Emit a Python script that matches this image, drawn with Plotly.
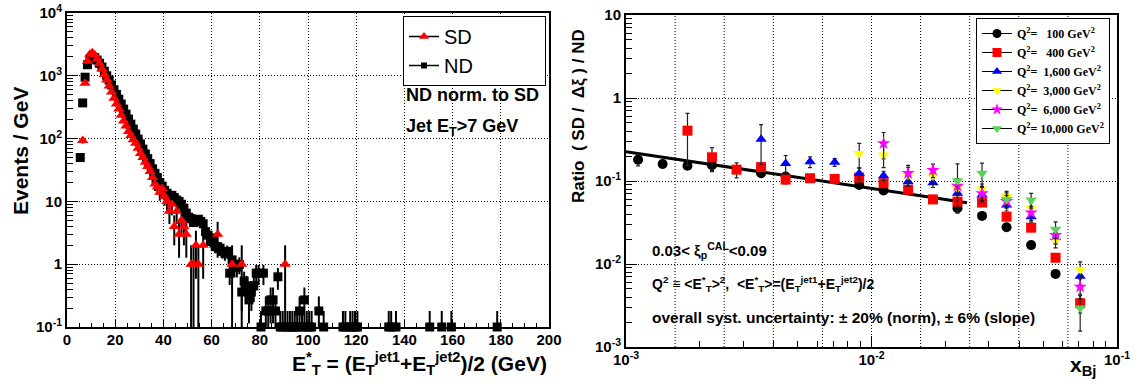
import math
import plotly.graph_objects as go

# ---------------- Left panel data (1 GeV bins) ----------------
nd_x = [5.5, 6.5, 7.5, 8.5, 9.5, 10.5, 11.5, 12.5, 13.5, 14.5, 15.5, 16.5, 17.5, 18.5, 19.5,
        20.5, 21.5, 22.5, 23.5, 24.5, 25.5, 26.5, 27.5, 28.5, 29.5, 30.5, 31.5, 32.5, 33.5,
        34.5, 35.5, 36.5, 37.5, 38.5, 39.5, 40.5, 41.5, 42.5, 43.5, 44.5, 45.5, 46.5, 47.5,
        48.5, 49.5, 50.5, 51.5, 52.5, 53.5, 54.5, 55.5, 56.5, 57.5, 58.5, 59.5, 60.5, 61.5,
        62.5, 63.5, 64.5, 65.5, 66.5, 67.5, 68.5, 69.5, 70.5, 71.5, 72.5, 73.5, 74.5, 75.5,
        76.5, 77.5, 78.5, 79.5, 80.5, 81.5, 82.5, 83.5, 84.5, 85.5, 86.5, 87.5, 88.5, 89.5,
        91.5, 92.5, 93.5, 94.5, 95.5, 96.5, 97.5, 98.5, 99.5, 100.5, 101.5, 104.5, 106.5,
        114.5, 115.5, 117.5, 118.5, 119.5, 120.5, 133.5, 134.5, 136.5, 150.5, 155.5, 159.5,
        178.5]
nd_y = [50, 370, 950, 1500, 1850, 1980, 1950, 1780, 1580, 1380, 1180, 1000, 850, 715, 600,
        505, 425, 355, 295, 245, 205, 170, 142, 118, 98, 82, 68, 57, 48,
        40, 33, 28, 24, 20, 17.5, 15, 13.5, 12, 12.5, 11.5, 10.5, 10, 9,
        7.8, 6.5, 5.6, 5.3, 4.6, 5.0, 5.2, 4.8, 4.4, 3.3, 2.9, 2.3, 2.6, 1.9,
        1.9, 1.8, 1.6, 1.5, 1.6, 0.72, 1.17, 0.9, 0.9, 0.99, 0.36, 0.54, 0.45, 0.27,
        0.36, 0.45, 0.72, 0.72, 0.09, 0.72, 0.18, 0.18, 0.27, 0.27, 0.18, 0.63, 0.09, 0.09,
        0.09, 0.09, 0.09, 0.09, 0.09, 0.18, 0.09, 0.27, 0.09, 0.09, 0.09, 0.18, 0.09,
        0.09, 0.09, 0.09, 0.09, 0.09, 0.09, 0.09, 0.09, 0.09, 0.09, 0.09, 0.09,
        0.09]
ND_SCALE = 0.09  # weight of one ND event after normalisation to SD

sd_x = [6.5, 7.5, 8.5, 9.5, 10.5, 11.5, 12.5, 13.5, 14.5, 15.5, 16.5, 17.5, 18.5, 19.5,
        20.5, 21.5, 22.5, 23.5, 24.5, 25.5, 26.5, 27.5, 28.5, 29.5, 30.5, 31.5, 32.5, 33.5,
        34.5, 35.5, 36.5, 37.5, 38.5, 39.5, 40.5, 41.5, 42.5, 43.5, 44.5, 45.5, 46.5, 47.5,
        48.5, 49.5, 51.5, 52.5, 53.5, 54.5, 56.5, 62.5, 68.5, 72.5, 90.5]
sd_y = [93, 760, 1700, 2200, 2330, 2150, 1850, 1550, 1280, 1050, 860, 690, 550, 440,
        355, 295, 235, 190, 158, 130, 112, 96, 84, 70, 58, 50, 42, 36,
        30, 24, 19, 17, 14, 16, 12, 10, 7, 9, 4, 7, 3, 5,
        4, 3, 1, 1, 2, 1, 2, 3, 1, 1, 1]

left_xticks = [0, 20, 40, 60, 80, 100, 120, 140, 160, 180, 200]
left_yticks = [0.1, 1, 10, 100, 1000, 10000]
left_ytext = ["10<sup>-1</sup>", "1", "10", "10<sup>2</sup>", "10<sup>3</sup>", "10<sup>4</sup>"]

# ---------------- Right panel data ----------------
xbj = [0.00112, 0.00141, 0.00178, 0.00224, 0.00282, 0.00355, 0.00447, 0.00562, 0.00708,
       0.00891, 0.0112, 0.0141, 0.0178, 0.0224, 0.0282, 0.0355, 0.0447, 0.0562, 0.0708]
q100 = [0.18, 0.16, 0.153, 0.155, None, 0.124, 0.113, None, None, 0.0895, 0.077, None, None,
        0.047, 0.038, 0.0277, 0.0169, 0.0076, None]
q100_err = [0.028, 0.015, 0.015, 0.025, None, 0.008, 0.006, None, None, 0.005, 0.004, None, None,
            0.003, 0.002, 0.002, 0.001, 0.0006, None]
q400 = [None, None, 0.404, 0.193, 0.137, 0.147, 0.104, 0.108, 0.106, 0.11, 0.094, 0.0785, 0.060,
        0.0564, 0.055, 0.0372, 0.0274, 0.0119, 0.00337]
q400_err = [None, None, 0.25, 0.06, 0.028, 0.012, 0.012, 0.008, 0.008, 0.008, 0.008, 0.006, 0.005,
            0.012, 0.005, 0.004, 0.002, 0.001, 0.0008]
q1600 = [None, None, None, None, None, 0.318, 0.163, 0.17, 0.168, 0.123, 0.116, 0.098, 0.0955,
         0.0713, 0.068, 0.0515, 0.037, 0.021, 0.0071]
q1600_err = [None, None, None, None, None, 0.16, 0.04, 0.025, 0.018, 0.02, 0.015, 0.012, 0.012,
             0.012, 0.01, 0.008, 0.005, 0.003, 0.0015]
q3000 = [None, None, None, None, None, None, None, None, None, 0.214, 0.205, 0.116, 0.116,
         0.082, 0.080, 0.065, 0.047, 0.0196, 0.0086]
q3000_err = [None, None, None, None, None, None, None, None, None, 0.07, 0.06, 0.03, 0.025,
             0.015, 0.012, 0.01, 0.008, 0.004, 0.002]
q6000 = [None, None, None, None, None, None, None, None, None, None, 0.284, 0.124, 0.135,
         0.087, 0.071, 0.057, 0.0415, 0.0223, 0.0053]
q6000_err = [None, None, None, None, None, None, None, None, None, None, 0.1, 0.03, 0.025,
             0.02, 0.015, 0.01, 0.008, 0.005, 0.0015]
q10000 = [None, None, None, None, None, None, None, None, None, None, None, None, None,
          0.101, 0.124, 0.060, 0.059, 0.0262, 0.00295]
q10000_err = [None, None, None, None, None, None, None, None, None, None, None, None, None,
              0.06, 0.04, 0.012, 0.012, 0.006, 0.0014]
fit_x = [0.001, 0.0245]
fit_y = [0.225, 0.0548]

series = [
    ("Q<sup>2</sup>= &nbsp;&nbsp;100 GeV<sup>2</sup>", q100, q100_err, "circle", "black", 10),
    ("Q<sup>2</sup>= &nbsp;&nbsp;400 GeV<sup>2</sup>", q400, q400_err, "square", "#ff0000", 10),
    ("Q<sup>2</sup>= &nbsp;1,600 GeV<sup>2</sup>", q1600, q1600_err, "triangle-up", "#0000ff", 10),
    ("Q<sup>2</sup>= &nbsp;3,000 GeV<sup>2</sup>", q3000, q3000_err, "triangle-down", "#ffff00", 10),
    ("Q<sup>2</sup>= &nbsp;6,000 GeV<sup>2</sup>", q6000, q6000_err, "star", "#ff00ff", 10),
    ("Q<sup>2</sup>= 10,000 GeV<sup>2</sup>", q10000, q10000_err, "triangle-down", "#59d454", 10),
]

W, H = 1134, 385
def px(x): return x / W
def py(y): return 1 - y / H

SANS = "Liberation Sans, Arial, sans-serif"
SERIF = "Liberation Serif, Times New Roman, serif"
GRID_DASH = "1px,2px"
PAD = "&nbsp;" * 12

fig = go.Figure()

# ---- left traces ----
nd_main_x = [x for x, y in zip(nd_x, nd_y) if y >= 0.1]
nd_main_y = [y for y in nd_y if y >= 0.1]
nd_main_e = [math.sqrt(y * ND_SCALE) for y in nd_main_y]
nd_edge_x = [x for x, y in zip(nd_x, nd_y) if y < 0.1]
nd_edge_y = [0.1 for y in nd_y if y < 0.1]
nd_edge_e = [2 * y - 0.1 for y in nd_y if y < 0.1]

fig.add_trace(go.Scatter(x=nd_main_x, y=nd_main_y, mode="markers", showlegend=False,
                         marker=dict(symbol="square", size=9, color="black", line=dict(width=0)),
                         error_y=dict(type="data", array=nd_main_e, color="black", thickness=2, width=0),
                         xaxis="x", yaxis="y"))
fig.add_trace(go.Scatter(x=nd_edge_x, y=nd_edge_y, mode="markers", showlegend=False, cliponaxis=False,
                         marker=dict(symbol="square", size=9, color="black", line=dict(width=0)),
                         error_y=dict(type="data", array=nd_edge_e, arrayminus=[0] * len(nd_edge_e),
                                      color="black", thickness=2, width=0),
                         xaxis="x", yaxis="y"))
fig.add_trace(go.Scatter(x=sd_x, y=sd_y, mode="markers", showlegend=False,
                         marker=dict(symbol="triangle-up", size=10, color="#ff0000", line=dict(width=0)),
                         error_y=dict(type="data", array=[math.sqrt(v) for v in sd_y],
                                      arrayminus=[min(math.sqrt(v), v * 0.95) for v in sd_y],
                                      color="black", thickness=2, width=0),
                         xaxis="x", yaxis="y"))
# legend entries (left)
fig.add_trace(go.Scatter(x=[None], y=[None], mode="lines+markers", name="SD" + PAD, legend="legend",
                         line=dict(color="black", width=1.5),
                         marker=dict(symbol="triangle-up", size=9, color="#ff0000"), xaxis="x", yaxis="y"))
fig.add_trace(go.Scatter(x=[None], y=[None], mode="lines+markers", name="ND" + PAD, legend="legend",
                         line=dict(color="black", width=1.5),
                         marker=dict(symbol="square", size=6, color="black"), xaxis="x", yaxis="y"))

# ---- right traces ----
fig.add_trace(go.Scatter(x=fit_x, y=fit_y, mode="lines", showlegend=False,
                         line=dict(color="black", width=3), xaxis="x2", yaxis="y2"))
for name, vals, errs, sym, col, sz in series:
    xs = [x for x, v in zip(xbj, vals) if v is not None]
    ys = [v for v in vals if v is not None]
    es = [e for v, e in zip(vals, errs) if v is not None]
    fig.add_trace(go.Scatter(x=xs, y=ys, mode="markers", showlegend=False,
                             marker=dict(symbol=sym, size=sz, color=col, line=dict(width=0)),
                             error_y=dict(type="data", array=es, color="#222222", thickness=1.2, width=2),
                             xaxis="x2", yaxis="y2"))
for name, vals, errs, sym, col, sz in series:
    fig.add_trace(go.Scatter(x=[None], y=[None], mode="lines+markers", name=name, legend="legend2",
                             line=dict(color="black", width=1),
                             marker=dict(symbol=sym, size=9, color=col, line=dict(width=0)),
                             xaxis="x2", yaxis="y2"))

# grid lines for right x-axis every 0.2 decade
shapes = []
for k in range(1, 10):
    xv = 10 ** (-3 + 0.2 * k)
    shapes.append(dict(type="line", xref="x2", yref="y2 domain", x0=xv, x1=xv, y0=0, y1=1,
                       line=dict(color="black", width=1, dash=GRID_DASH), layer="below"))

def minor_log(lo, hi):
    out = []
    for d in range(lo, hi):
        for m in range(2, 10):
            out.append(m * 10 ** d)
    return out

tickfont = dict(family=SANS, size=15, color="black", weight="bold")
common = dict(showline=True, linecolor="black", linewidth=2, mirror=True, zeroline=False,
              tickfont=tickfont, automargin=False, tickcolor="black", ticklabeloverflow="allow")

fig.update_layout(
    width=W, height=H, margin=dict(l=0, r=0, t=0, b=0, autoexpand=False),
    paper_bgcolor="white", plot_bgcolor="white",
    shapes=shapes,
    xaxis=dict(domain=[px(67), px(549)], anchor="y", range=[0, 200], tickvals=left_xticks,
               ticks="inside", ticklen=8, tickwidth=1, ticklabelstandoff=-2,
               minor=dict(dtick=5, tick0=0, ticks="inside", ticklen=4, tickcolor="black", showgrid=False),
               showgrid=True, gridcolor="black", gridwidth=1, griddash=GRID_DASH, **common),
    yaxis=dict(domain=[py(327), py(13)], anchor="x", type="log", range=[-1, 4],
               tickvals=left_yticks, ticktext=left_ytext,
               ticks="inside", ticklen=11,
               minor=dict(tickvals=minor_log(-1, 4), ticks="inside", ticklen=6, tickcolor="black", showgrid=False),
               showgrid=True, gridcolor="black", gridwidth=1, griddash=GRID_DASH, **common),
    xaxis2=dict(domain=[px(626), px(1117)], anchor="y2", type="log", range=[-3, -1],
                tickvals=[0.001, 0.01, 0.1], ticktext=["10<sup>-3</sup>", "10<sup>-2</sup>", "10<sup>-1</sup>"],
                ticks="inside", ticklen=11, ticklabelstandoff=-2,
                minor=dict(tickvals=minor_log(-3, -1), ticks="inside", ticklen=6, tickcolor="black", showgrid=False),
                showgrid=False, **common),
    yaxis2=dict(domain=[py(347), py(15)], anchor="x2", type="log", range=[-3, 1],
                tickvals=[0.001, 0.01, 0.1, 1, 10],
                ticktext=["10<sup>-3</sup>", "10<sup>-2</sup>", "10<sup>-1</sup>", "1", "10"],
                ticks="inside", ticklen=11,
                minor=dict(tickvals=minor_log(-3, 1), ticks="inside", ticklen=6, tickcolor="black", showgrid=False),
                showgrid=True, gridcolor="black", gridwidth=1, griddash=GRID_DASH, **common),
    legend=dict(x=px(403), y=py(16), xanchor="left", yanchor="top", bgcolor="white",
                bordercolor="black", borderwidth=1, font=dict(family=SANS, size=20, color="black"),
                itemwidth=30, tracegroupgap=0),
    legend2=dict(x=px(1110), y=py(18), xanchor="right", yanchor="top", bgcolor="white",
                 bordercolor="black", borderwidth=1,
                 font=dict(family=SERIF, size=12, color="black", weight="bold"),
                 itemwidth=30, tracegroupgap=0),
)

ann = []
def text(x, y, s, size, xanchor="left", angle=0, family=SANS, bold=True):
    ann.append(dict(x=px(x), y=py(y), xref="paper", yref="paper", text=s, showarrow=False,
                    xanchor=xanchor, yanchor="middle", textangle=angle,
                    font=dict(family=family, size=size, color="black", weight="bold" if bold else "normal")))

text(404, 95, "ND norm. to SD", 18)
text(404, 127, "Jet E<sub>T</sub>>7 GeV", 18)
text(20, 151, "Events / GeV", 21, xanchor="center", angle=-90)
text(549, 363, "E<sup>*</sup><sub>T</sub> = (E<sub>T</sub><sup>jet1</sup>+E<sub>T</sub><sup>jet2</sup>)/2 (GeV)",
     21, xanchor="right")
text(578, 116, "Ratio  ( SD /  Δξ ) / ND", 17, xanchor="center", angle=-90)
text(1068, 366, "x<sub>Bj</sub>", 21, xanchor="left")
text(650, 250, "0.03&lt; ξ<sub>p</sub><sup>CAL</sup>&lt;0.09", 15)
text(650, 284, "Q<sup>2</sup> ≡ &lt;E<sup>*</sup><sub>T</sub>&gt;<sup>2</sup>,  &lt;E<sup>*</sup><sub>T</sub>&gt;=(E<sub>T</sub><sup>jet1</sup>+E<sub>T</sub><sup>jet2</sup>)/2", 14)
text(650, 317, "overall syst. uncertainty: ± 20% (norm), ± 6% (slope)", 15.5)
fig.update_layout(annotations=ann)

fig.write_html("out.html", config={"displayModeBar": False},
               post_script="document.body.style.margin='0';document.body.style.overflow='hidden';")
